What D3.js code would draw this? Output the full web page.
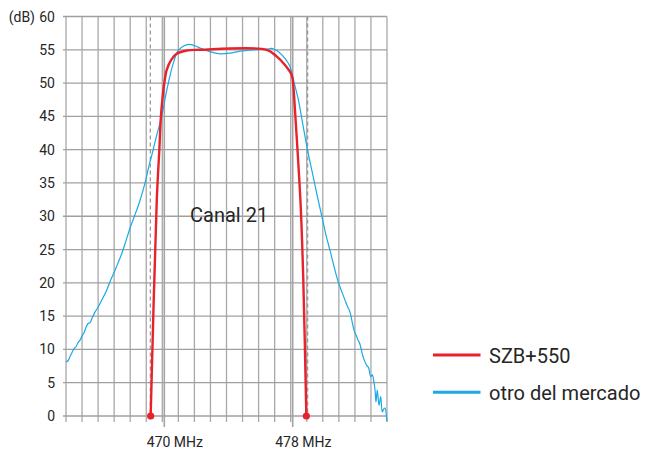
<!DOCTYPE html>
<html>
<head>
<meta charset="utf-8">
<script src="https://cdn.jsdelivr.net/npm/d3@7"></script>
<style>
    body { margin: 0; background: #fff; }
    text { font-family: Roboto, "DejaVu Sans", sans-serif; fill: #262626; }
</style>
</head>
<body>
<div id="chart"></div>
<script>

// SZB+550 filter response (MHz, dB)
var szb_freq = [469.15, 469.53, 469.69, 469.79, 469.90, 470.00, 470.15, 470.46, 470.77, 471.40, 472.22,
                476.38, 477.00, 477.52, 477.94, 478.04, 478.14, 478.31, 478.50, 478.66, 478.85];
var szb_db   = [0, 32.4, 40, 45, 48, 50, 52, 53.6, 54.4, 54.9, 55,
                55, 54, 52.7, 51.2, 49.5, 46, 39.5, 31.4, 20.4, 0];

// "otro del mercado" response (MHz, dB)
var otro_freq = [463.88, 464.00, 464.12, 464.28, 464.37, 464.50, 464.62, 464.75, 464.87, 465.00,
                 465.12, 465.25, 465.37, 465.50, 465.68, 465.89, 466.12, 466.41, 466.62, 466.93,
                 467.12, 467.35, 467.61, 467.86, 468.17, 468.49, 468.80, 469.05, 469.31, 469.54,
                 469.84, 470.04, 470.25, 470.56, 470.87, 471.23, 471.54, 471.79, 472.10, 472.64,
                 473.03, 473.47, 474.09, 474.72, 475.55, 476.38, 476.69, 477.00, 477.21, 477.41,
                 477.64, 477.83, 478.04, 478.35, 478.66, 478.97, 479.28, 479.59, 479.87, 480.07,
                 480.32, 480.57, 480.84, 481.07, 481.26, 481.44, 481.57, 481.69, 481.82, 481.94,
                 482.09, 482.16, 482.26, 482.35, 482.44, 482.61, 482.72, 482.86, 482.96, 483.02,
                 483.13, 483.19, 483.27, 483.38, 483.48, 483.58, 483.66, 483.75, 483.86, 483.88];
var otro_db   = [8.1, 8.3, 8.9, 9.7, 10.1, 10.4, 11.0, 11.4, 12.0, 12.5,
                 13.3, 13.9, 14.0, 14.7, 15.6, 16.4, 17.5, 18.9, 20.2, 21.9,
                 23.0, 24.4, 26.3, 28.2, 30.2, 32.4, 35.0, 37.6, 40, 42.3,
                 45, 47.6, 50, 53, 54.9, 55.6, 55.8, 55.7, 55.4, 54.9,
                 54.6, 54.4, 54.5, 54.8, 55, 55.1, 55.2, 54.9, 54.5, 54,
                 53.3, 52.5, 50.5, 47.5, 43.4, 39.4, 35.9, 32.4, 29.4, 27.2,
                 24.9, 22.5, 20.1, 18.6, 17.4, 16.3, 15.6, 14.3, 12.9, 12.2,
                 11.3, 11.0, 10.1, 9.2, 8.5, 7.6, 7.3, 5.9, 6.2, 5.7,
                 3.9, 2.1, 3.9, 1.6, 2.9, 0.6, 1.0, 1.2, -0.4, -0.8];

var y_ticks = [0, 5, 10, 15, 20, 25, 30, 35, 40, 45, 50, 55, 60];
var grid_freq = [463.875, 464.875, 465.875, 466.875, 467.875, 468.875, 469.875, 470.875, 471.875, 472.875,
                 473.875, 474.875, 475.875, 476.875, 477.875, 478.875, 479.875, 480.875, 481.875, 482.875, 483.875];
var marker_freq = [470, 478];
var marker_labels = ["470 MHz", "478 MHz"];
var edge_freq = [469.13, 478.93];
var legend_names = ["SZB+550", "otro del mercado"];
var legend_colors = ["#e8212b", "#1aa9e6"];

function drawChart() {

    var width = 647,
        height = 450;

    var svg = d3.select("#chart").append("svg")
        .attr("width", width)
        .attr("height", height);

    var x = d3.scaleLinear()
        .domain([463.875, 483.875])
        .range([66, 387]);

    var y = d3.scaleLinear()
        .domain([0, 60])
        .range([416, 16.5]);

    // grid
    svg.selectAll(".vgrid").data(grid_freq)
        .enter().append("line")
        .attr("x1", function(d) { return x(d); })
        .attr("x2", function(d) { return x(d); })
        .attr("y1", y(60))
        .attr("y2", y(0) + 6)
        .attr("stroke", "#a8a8a8")
        .attr("stroke-width", 1.3);

    svg.selectAll(".hgrid").data(y_ticks)
        .enter().append("line")
        .attr("x1", x.range()[0] - 3)
        .attr("x2", x.range()[1])
        .attr("y1", function(d) { return y(d); })
        .attr("y2", function(d) { return y(d); })
        .attr("stroke", "#a0a0a0")
        .attr("stroke-width", 1.3);

    // channel markers
    svg.selectAll(".marker").data(marker_freq)
        .enter().append("line")
        .attr("x1", function(d) { return x(d); })
        .attr("x2", function(d) { return x(d); })
        .attr("y1", y(60))
        .attr("y2", y(0) + 11)
        .attr("stroke", "#a3a3a3")
        .attr("stroke-width", 1.6);

    svg.selectAll(".edge").data(edge_freq)
        .enter().append("line")
        .attr("x1", function(d) { return x(d); })
        .attr("x2", function(d) { return x(d); })
        .attr("y1", y(60))
        .attr("y2", y(0) + 4)
        .attr("stroke", "#9a9a9a")
        .attr("stroke-width", 1.3)
        .attr("stroke-dasharray", "4,3");

    // axis labels
    svg.selectAll(".ylab").data(y_ticks)
        .enter().append("text")
        .attr("x", 55)
        .attr("y", function(d) { return y(d); })
        .attr("dy", "0.36em")
        .attr("text-anchor", "end")
        .style("font-size", "14px")
        .text(function(d) { return d; });

    svg.append("text")
        .attr("x", 35)
        .attr("y", y(60))
        .attr("dy", "0.36em")
        .attr("text-anchor", "end")
        .style("font-size", "14px")
        .text("(dB)");

    svg.selectAll(".xlab").data(marker_freq)
        .enter().append("text")
        .attr("x", function(d) { return x(d) - 17.5; })
        .attr("y", 447)
        .style("font-size", "14px")
        .text(function(d, i) { return marker_labels[i]; });

    svg.append("text")
        .attr("x", 190)
        .attr("y", 222)
        .style("font-size", "20px")
        .text("Canal 21");

    // curves
    var line = d3.line()
        .x(function(d) { return x(d[0]); })
        .y(function(d) { return y(d[1]); })
        .curve(d3.curveCatmullRom.alpha(0.5));

    var otro = otro_freq.map(function(f, i) { return [f, otro_db[i]]; });
    var szb = szb_freq.map(function(f, i) { return [f, szb_db[i]]; });

    svg.append("path")
        .datum(otro)
        .attr("fill", "none")
        .attr("stroke", legend_colors[1])
        .attr("stroke-width", 1.2)
        .attr("d", line);

    svg.append("path")
        .datum(szb)
        .attr("fill", "none")
        .attr("stroke", legend_colors[0])
        .attr("stroke-width", 2.4)
        .attr("stroke-linejoin", "round")
        .attr("d", line);

    svg.selectAll(".dot").data([szb[0], szb[szb.length - 1]])
        .enter().append("circle")
        .attr("r", 3.6)
        .attr("fill", legend_colors[0])
        .attr("cx", function(d) { return x(d[0]); })
        .attr("cy", function(d) { return y(d[1]); });

    // legend
    var legend = svg.selectAll(".legend").data(legend_names)
        .enter().append("g")
        .attr("transform", function(d, i) { return "translate(433," + (355 + i * 37.3) + ")"; });

    legend.append("line")
        .attr("x1", 0)
        .attr("x2", 47.5)
        .attr("stroke", function(d, i) { return legend_colors[i]; })
        .attr("stroke-width", 3);

    legend.append("text")
        .attr("x", 56)
        .attr("y", 7.5)
        .style("font-size", "20px")
        .text(function(d) { return d; });
}

drawChart();
</script>
</body>
</html>
